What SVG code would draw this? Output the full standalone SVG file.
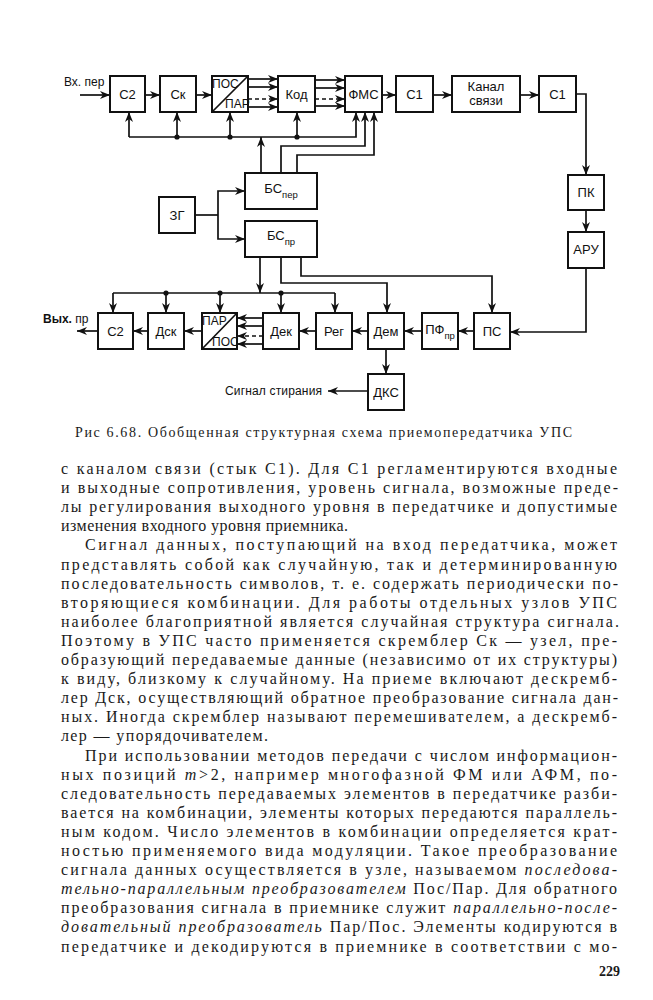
<svg xmlns="http://www.w3.org/2000/svg" width="653" height="1000" viewBox="0 0 653 1000">
<defs>
<marker id="ah" markerUnits="userSpaceOnUse" markerWidth="10" markerHeight="8" refX="10" refY="4" orient="auto"><path d="M0,0 L10,4 L0,8 L3,4 z" fill="#111"/></marker>
</defs>
<style>
.bx{fill:#fff;stroke:#111;stroke-width:2}
.ln{fill:none;stroke:#111;stroke-width:1.7}
.ar{marker-end:url(#ah)}
.dash{stroke-dasharray:4 3}
.lb{font-family:"Liberation Sans",Arial,sans-serif;font-size:13px;fill:#111;text-anchor:middle}
.ls{font-family:"Liberation Sans",Arial,sans-serif;font-size:12px;fill:#111}
.tx{font-family:"Liberation Serif","Times New Roman",serif;font-size:16px;fill:#1a1a1a}
.cap{font-family:"Liberation Serif","Times New Roman",serif;font-size:14px;fill:#1a1a1a}
.it{font-style:italic}
.dot{fill:#111}
</style>
<rect width="653" height="1000" fill="#fff"/>

<g id="connectors">
  <path class="ln ar" d="M80,95 H110"/>
  <path class="ln ar" d="M145,95 H160"/>
  <path class="ln ar" d="M196,95 H212"/>
  <path class="ln ar" d="M248,79 H278"/>
  <path class="ln ar" d="M248,87 H278"/>
  <path class="ln ar dash" d="M248,99 H278"/>
  <path class="ln ar" d="M248,107 H278"/>
  <path class="ln ar" d="M315,80 H345"/>
  <path class="ln ar" d="M315,88 H345"/>
  <path class="ln ar dash" d="M315,99 H345"/>
  <path class="ln ar" d="M315,106 H345"/>
  <path class="ln ar" d="M382,95 H396"/>
  <path class="ln ar" d="M433,95 H452"/>
  <path class="ln ar" d="M520,95 H539"/>
  <path class="ln ar" d="M576,94 H586 V175"/>
  <path class="ln ar" d="M586,210 V232"/>
  <path class="ln ar" d="M586,268 V332 H510"/>
  <path class="ln ar" d="M474,331 H458"/>
  <path class="ln ar" d="M422,331 H404"/>
  <path class="ln ar" d="M368,331 H352"/>
  <path class="ln ar" d="M316,331 H299"/>
  <path class="ln ar" d="M263,318 H237"/>
  <path class="ln ar" d="M263,326 H237"/>
  <path class="ln ar dash" d="M263,336 H237"/>
  <path class="ln ar" d="M263,344 H237"/>
  <path class="ln ar" d="M202,331 H184"/>
  <path class="ln ar" d="M148,331 H133"/>
  <path class="ln ar" d="M98,331 H77"/>
  <path class="ln ar" d="M386,349 V374"/>
  <path class="ln ar" d="M368,391 H328"/>
  <path class="ln" d="M195,215 H218"/>
  <path class="ln ar" d="M218,215 V191 H245"/>
  <path class="ln ar" d="M218,215 V239 H245"/>
  <path class="ln ar" d="M261,173 V137"/>
  <path class="ln ar" d="M129,137 H356 V112"/>
  <path class="ln ar" d="M129,137 V112"/>
  <path class="ln ar" d="M177,137 V112"/>
  <path class="ln ar" d="M230,137 V112"/>
  <path class="ln ar" d="M297,137 V112"/>
  <path class="ln ar" d="M281,173 V146 H365 V112"/>
  <path class="ln ar" d="M297,173 V155 H374 V112"/>
  <circle class="dot" cx="177" cy="137" r="2.6"/>
  <circle class="dot" cx="230" cy="137" r="2.6"/>
  <circle class="dot" cx="297" cy="137" r="2.6"/>
  <path class="ln ar" d="M260,257 V293"/>
  <path class="ln" d="M113,293 H335"/>
  <path class="ln ar" d="M113,293 V313"/>
  <path class="ln ar" d="M166,293 V313"/>
  <path class="ln ar" d="M220,293 V313"/>
  <path class="ln ar" d="M281,293 V313"/>
  <path class="ln ar" d="M335,293 V313"/>
  <circle class="dot" cx="166" cy="293" r="2.6"/>
  <circle class="dot" cx="220" cy="293" r="2.6"/>
  <circle class="dot" cx="281" cy="293" r="2.6"/>
  <path class="ln ar" d="M281,257 V283 H387 V313"/>
  <path class="ln ar" d="M301,257 V276 H492 V313"/>
</g>

<g id="n-vh"><text class="ls" x="64" y="86">Вх. пер</text></g>
<g id="n-c2t"><rect class="bx" x="110" y="76" width="35" height="36"/><text class="lb" x="127.5" y="99">С2</text></g>
<g id="n-sk"><rect class="bx" x="160" y="76" width="36" height="36"/><text class="lb" x="178" y="99">Ск</text></g>
<g id="n-pospar"><rect class="bx" x="212" y="76" width="36" height="36"/><path class="ln" d="M212,112 L248,76" stroke-width="2"/><text class="ls" x="212" y="88" font-size="11.5">ПОС</text><text class="ls" x="225" y="108" font-size="11.5">ПАР</text></g>
<g id="n-kod"><rect class="bx" x="278" y="76" width="37" height="36"/><text class="lb" x="296.5" y="99">Код</text></g>
<g id="n-fms"><rect class="bx" x="345" y="76" width="37" height="36"/><text class="lb" x="363.5" y="99" font-size="12.5">ФМС</text></g>
<g id="n-c1a"><rect class="bx" x="396" y="76" width="37" height="36"/><text class="lb" x="414.5" y="99">С1</text></g>
<g id="n-kanal"><rect class="bx" x="452" y="76" width="68" height="36"/><text class="lb" x="486" y="91" font-size="12">Канал</text><text class="lb" x="486" y="105" font-size="12">связи</text></g>
<g id="n-c1b"><rect class="bx" x="539" y="76" width="37" height="36"/><text class="lb" x="557.5" y="99">С1</text></g>
<g id="n-pk"><rect class="bx" x="568" y="175" width="36" height="35"/><text class="lb" x="586" y="197">ПК</text></g>
<g id="n-aru"><rect class="bx" x="568" y="232" width="36" height="36"/><text class="lb" x="586" y="254" font-size="12.5">АРУ</text></g>
<g id="n-bsper"><rect class="bx" x="245" y="173" width="72" height="36"/><text class="lb" x="281" y="193">БС<tspan font-size="9.5" dy="5">пер</tspan></text></g>
<g id="n-zg"><rect class="bx" x="159" y="197" width="36" height="36"/><text class="lb" x="177" y="220">ЗГ</text></g>
<g id="n-bspr"><rect class="bx" x="245" y="221" width="72" height="36"/><text class="lb" x="281" y="240">БС<tspan font-size="9.5" dy="5">пр</tspan></text></g>
<g id="n-c2b"><rect class="bx" x="98" y="313" width="35" height="36"/><text class="lb" x="115.5" y="336">С2</text></g>
<g id="n-dsk"><rect class="bx" x="148" y="313" width="36" height="36"/><text class="lb" x="166" y="336">Дск</text></g>
<g id="n-parpos"><rect class="bx" x="202" y="313" width="35" height="36"/><path class="ln" d="M202,349 L237,313" stroke-width="2"/><text class="ls" x="202" y="325" font-size="11.5">ПАР</text><text class="ls" x="212" y="346" font-size="11.5">ПОС</text></g>
<g id="n-dek"><rect class="bx" x="263" y="313" width="36" height="36"/><text class="lb" x="281" y="336">Дек</text></g>
<g id="n-reg"><rect class="bx" x="316" y="313" width="36" height="36"/><text class="lb" x="334" y="336">Рег</text></g>
<g id="n-dem"><rect class="bx" x="368" y="313" width="36" height="36"/><text class="lb" x="386" y="336">Дем</text></g>
<g id="n-pf"><rect class="bx" x="422" y="313" width="36" height="36"/><text class="lb" x="440" y="334">ПФ<tspan font-size="9.5" dy="5">пр</tspan></text></g>
<g id="n-ps"><rect class="bx" x="474" y="313" width="36" height="36"/><text class="lb" x="492" y="336">ПС</text></g>
<g id="n-dks"><rect class="bx" x="368" y="374" width="36" height="36"/><text class="lb" x="386" y="397" font-size="12.5">ДКС</text></g>
<g id="n-vyh"><text class="ls" x="43" y="323"><tspan font-weight="bold">Вых.</tspan> пр</text></g>
<g id="n-ster"><text class="ls" x="225" y="395" textLength="97" lengthAdjust="spacing">Сигнал стирания</text></g>

<g id="caption"><text class="cap" x="75" y="437" textLength="497" lengthAdjust="spacing">Рис  6.68. Обобщенная структурная схема приемопередатчика УПС</text></g>

<g id="body">
<text class="tx" x="61" y="474" textLength="556" lengthAdjust="spacing">с каналом связи (стык С1). Для С1 регламентируются входные</text>
<text class="tx" x="61" y="493.1" textLength="557" lengthAdjust="spacing">и выходные сопротивления, уровень сигнала, возможные преде-</text>
<text class="tx" x="61" y="512.2" textLength="556" lengthAdjust="spacing">лы регулирования выходного уровня в передатчике и допустимые</text>
<text class="tx" x="61" y="531.3" textLength="287" lengthAdjust="spacing">изменения входного уровня приемника.</text>
<text class="tx" x="85" y="550.4" textLength="532" lengthAdjust="spacing">Сигнал данных, поступающий на вход передатчика, может</text>
<text class="tx" x="61" y="569.5" textLength="556" lengthAdjust="spacing">представлять собой как случайную, так и детерминированную</text>
<text class="tx" x="61" y="588.6" textLength="557" lengthAdjust="spacing">последовательность символов, т. е. содержать периодически по-</text>
<text class="tx" x="61" y="607.7" textLength="556" lengthAdjust="spacing">вторяющиеся комбинации. Для работы отдельных узлов УПС</text>
<text class="tx" x="61" y="626.8" textLength="558" lengthAdjust="spacing">наиболее благоприятной является случайная структура сигнала.</text>
<text class="tx" x="61" y="645.9" textLength="556" lengthAdjust="spacing">Поэтому в УПС часто применяется скремблер Ск — узел, пре-</text>
<text class="tx" x="61" y="665" textLength="556" lengthAdjust="spacing">образующий передаваемые данные (независимо от их структуры)</text>
<text class="tx" x="61" y="684.1" textLength="556" lengthAdjust="spacing">к виду, близкому к случайному. На приеме включают дескремб-</text>
<text class="tx" x="61" y="703.2" textLength="557" lengthAdjust="spacing">лер Дск, осуществляющий обратное преобразование сигнала дан-</text>
<text class="tx" x="61" y="722.3" textLength="556" lengthAdjust="spacing">ных. Иногда скремблер называют перемешивателем, а дескремб-</text>
<text class="tx" x="61" y="741.4" textLength="207" lengthAdjust="spacing">лер — упорядочивателем.</text>
<text class="tx" x="85" y="760.5" textLength="532" lengthAdjust="spacing">При использовании методов передачи с числом информацион-</text>
<text class="tx" x="61" y="779.6" textLength="556" lengthAdjust="spacing">ных позиций <tspan class="it">m</tspan>&gt;2, например многофазной ФМ или АФМ, по-</text>
<text class="tx" x="61" y="798.7" textLength="556" lengthAdjust="spacing">следовательность передаваемых элементов в передатчике разби-</text>
<text class="tx" x="61" y="817.8" textLength="556" lengthAdjust="spacing">вается на комбинации, элементы которых передаются параллель-</text>
<text class="tx" x="61" y="836.9" textLength="556" lengthAdjust="spacing">ным кодом. Число элементов в комбинации определяется крат-</text>
<text class="tx" x="61" y="856" textLength="556" lengthAdjust="spacing">ностью применяемого вида модуляции. Такое преобразование</text>
<text class="tx" x="61" y="875.1" textLength="556" lengthAdjust="spacing">сигнала данных осуществляется в узле, называемом <tspan class="it">последова-</tspan></text>
<text class="tx" x="61" y="894.2" textLength="556" lengthAdjust="spacing"><tspan class="it">тельно-параллельным преобразователем</tspan> Пос/Пар. Для обратного</text>
<text class="tx" x="61" y="913.3" textLength="556" lengthAdjust="spacing">преобразования сигнала в приемнике служит <tspan class="it">параллельно-после-</tspan></text>
<text class="tx" x="61" y="932.4" textLength="556" lengthAdjust="spacing"><tspan class="it">довательный преобразователь</tspan> Пар/Пос. Элементы кодируются в</text>
<text class="tx" x="61" y="951.5" textLength="556" lengthAdjust="spacing">передатчике и декодируются в приемнике в соответствии с мо-</text>
<text class="cap" x="620" y="976" text-anchor="end" font-weight="bold" font-size="14">229</text>
</g>
</svg>
